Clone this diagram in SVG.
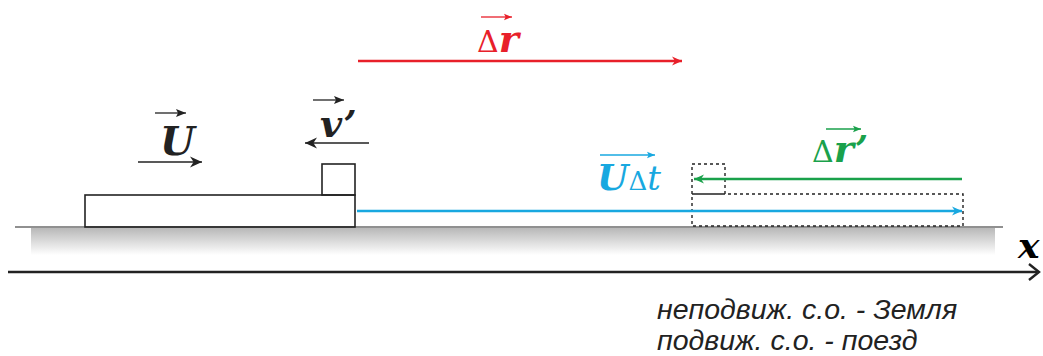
<svg xmlns="http://www.w3.org/2000/svg" width="1043" height="356" viewBox="0 0 1043 356">
<style>
.math{font-family:"DejaVu Serif",serif;font-size:38px}
.bi{font-weight:bold;font-style:italic}
.d{font-size:30px;font-style:normal;font-weight:normal}
.note{font-family:"Liberation Sans",Arial,sans-serif;font-style:italic;font-size:28.5px;fill:#222}
.k{stroke:#222;stroke-width:1.6;fill:none}
</style>
<defs>
<linearGradient id="g" x1="0" y1="0" x2="0" y2="1">
<stop offset="0" stop-color="#b8b8b8"/>
<stop offset="1" stop-color="#ffffff"/>
</linearGradient>
<marker id="ak" viewBox="0 0 10 10" refX="10" refY="5" markerWidth="10" markerHeight="10" markerUnits="userSpaceOnUse" orient="auto"><path d="M0,1 L10,5 L0,9 L2,5 Z" fill="#222"/></marker>
<marker id="akL" viewBox="0 0 10 10" refX="10" refY="5" markerWidth="16" markerHeight="12" markerUnits="userSpaceOnUse" orient="auto"><path d="M0,0.5 L10,5 L0,9.5 L3,5 Z" fill="#222"/></marker>
<marker id="ar" viewBox="0 0 10 10" refX="10" refY="5" markerWidth="18" markerHeight="10" markerUnits="userSpaceOnUse" orient="auto"><path d="M0,0.5 L10,5 L0,9.5 L3,5 Z" fill="#e8202a"/></marker>
<marker id="arS" viewBox="0 0 10 10" refX="10" refY="5" markerWidth="8" markerHeight="8" markerUnits="userSpaceOnUse" orient="auto"><path d="M0,1 L10,5 L0,9 L2,5 Z" fill="#e8202a"/></marker>
<marker id="ab" viewBox="0 0 10 10" refX="10" refY="5" markerWidth="18" markerHeight="10" markerUnits="userSpaceOnUse" orient="auto"><path d="M0,0.5 L10,5 L0,9.5 L3,5 Z" fill="#18a8e0"/></marker>
<marker id="abS" viewBox="0 0 10 10" refX="10" refY="5" markerWidth="8" markerHeight="8" markerUnits="userSpaceOnUse" orient="auto"><path d="M0,1 L10,5 L0,9 L2,5 Z" fill="#18a8e0"/></marker>
<marker id="ag" viewBox="0 0 10 10" refX="10" refY="5" markerWidth="18" markerHeight="10" markerUnits="userSpaceOnUse" orient="auto"><path d="M0,0.5 L10,5 L0,9.5 L3,5 Z" fill="#1aa14b"/></marker>
<marker id="agS" viewBox="0 0 10 10" refX="10" refY="5" markerWidth="8" markerHeight="8" markerUnits="userSpaceOnUse" orient="auto"><path d="M0,1 L10,5 L0,9 L2,5 Z" fill="#1aa14b"/></marker>
</defs>
<rect width="1043" height="356" fill="#fff"/>

<g id="ground">
<rect x="31" y="228" width="964" height="27" fill="url(#g)"/>
<line x1="15" y1="227" x2="1003" y2="227" stroke="#222" stroke-width="1.2"/>
</g>

<g id="x-axis">
<line x1="8" y1="272" x2="1037" y2="272" stroke="#222" stroke-width="2.6"/>
<path d="M1029,264 L1039,272 L1029,280" fill="none" stroke="#222" stroke-width="2.4"/>
<text x="1018" y="258" class="math" style="font-style:italic;font-weight:bold;font-size:36px">x</text>
</g>

<g id="train">
<rect x="85" y="195" width="270" height="32" fill="#fff" class="k"/>
</g>
<g id="passenger">
<rect x="322" y="164" width="33" height="31" fill="#fff" class="k"/>
</g>

<g id="ghost" fill="none" stroke="#222" stroke-width="1.4" stroke-dasharray="3,3">
<rect x="692" y="164" width="33" height="30"/>
<rect x="692" y="194" width="271" height="32"/>
</g>

<g id="connectors">
<line x1="138" y1="162" x2="202" y2="162" stroke="#222" stroke-width="1.6" marker-end="url(#akL)"/>
<line x1="369" y1="143" x2="305" y2="143" stroke="#222" stroke-width="1.6" marker-end="url(#akL)"/>
<line x1="358" y1="61" x2="682" y2="61" stroke="#e8202a" stroke-width="2.4" marker-end="url(#ar)"/>
<line x1="357" y1="211" x2="962" y2="211" stroke="#18a8e0" stroke-width="2.4" marker-end="url(#ab)"/>
<line x1="962" y1="179" x2="694" y2="179" stroke="#1aa14b" stroke-width="2.4" marker-end="url(#ag)"/>
</g>

<g id="label-U">
<line x1="155" y1="113" x2="186" y2="113" stroke="#222" stroke-width="1.3" marker-end="url(#ak)"/>
<text x="160" y="155" class="math bi" fill="#222" style="font-size:40px">U</text>
</g>
<g id="label-v">
<line x1="313" y1="100" x2="344" y2="100" stroke="#222" stroke-width="1.3" marker-end="url(#ak)"/>
<text x="320" y="137" class="math bi" fill="#222">v’</text>
</g>
<g id="label-dr">
<line x1="481" y1="17" x2="512" y2="17" stroke="#e8202a" stroke-width="1.3" marker-end="url(#arS)"/>
<text x="477" y="52" class="math" fill="#e8202a"><tspan class="d">Δ</tspan><tspan class="bi">r</tspan></text>
</g>
<g id="label-Udt">
<line x1="600" y1="155" x2="655" y2="155" stroke="#18a8e0" stroke-width="1.3" marker-end="url(#abS)"/>
<text x="597" y="190" class="math" fill="#18a8e0"><tspan class="bi" style="font-size:36px">U</tspan><tspan class="d" style="font-size:26px">Δ</tspan><tspan style="font-style:italic;font-size:34px">t</tspan></text>
</g>
<g id="label-drp">
<line x1="826" y1="129" x2="861" y2="129" stroke="#1aa14b" stroke-width="1.3" marker-end="url(#agS)"/>
<text x="812" y="162" class="math" fill="#1aa14b"><tspan class="d">Δ</tspan><tspan class="bi">r’</tspan></text>
</g>

<g id="notes">
<text x="657" y="319" class="note">неподвиж. с.о. - Земля</text>
<text x="657" y="350" class="note">подвиж. с.о. - поезд</text>
</g>
</svg>
